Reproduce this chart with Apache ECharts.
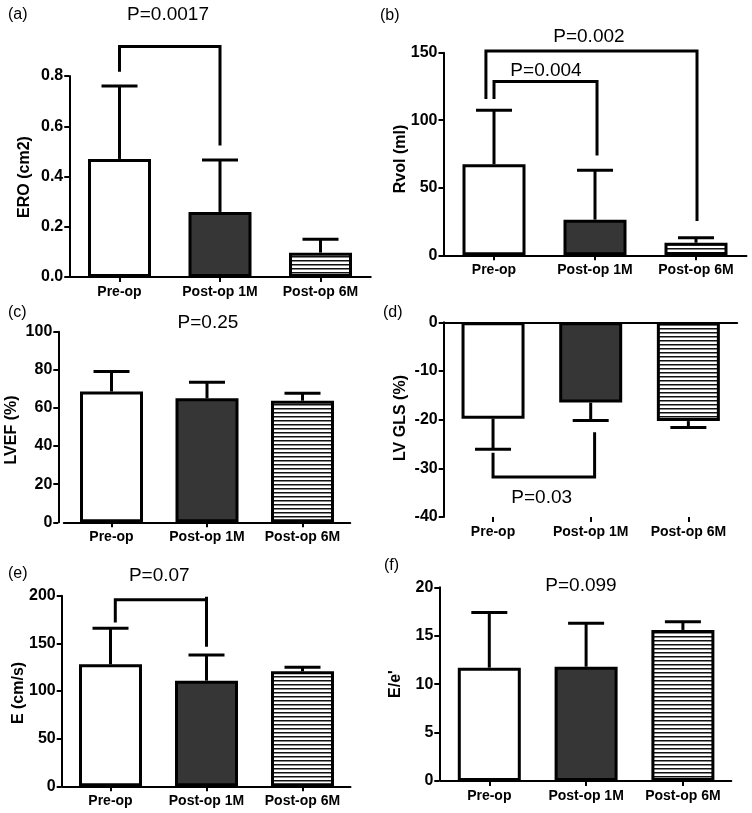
<!DOCTYPE html>
<html><head><meta charset="utf-8">
<script src="https://cdn.jsdelivr.net/npm/echarts@6/dist/echarts.min.js"></script>
<style>html,body{margin:0;padding:0;background:#fff}#c{width:752px;height:813px}</style>
</head><body><div id="c"></div>
<script>
// ---------- data ----------
const categories = ['Pre-op', 'Post-op 1M', 'Post-op 6M'];

const eroMean  = [0.47, 0.259, 0.097];
const eroSD    = [0.29, 0.207, 0.053];
const rvolMean = [67.4, 26.4, 9.3];
const rvolSD   = [40, 36.6, 3.7];
const lvefMean = [68.6, 65.1, 63.8];
const lvefSD   = [10.5, 8.4, 3.9];
const glsMean  = [-19.8, -16.5, -20.3];
const glsSD    = [6.3, 3.7, 1.3];
const eMean    = [128, 110.8, 120.7];
const eSD      = [37.8, 27, 4.2];
const eeMean   = [11.7, 11.8, 15.6];
const eeSD     = [5.7, 4.5, 0.85];

// significance brackets: [category position, value]
const eroBracket      = [[0, 0.817], [0, 0.917], [1, 0.917], [1, 0.523]];
const rvolBracketOut  = [[-0.08, 115.8], [-0.08, 151.3], [2.01, 151.3], [2.01, 25.4]];
const rvolBracketIn   = [[0, 115.8], [0, 128.6], [1.02, 128.6], [1.02, 73.8]];
const glsBracket      = [[0, -26.8], [0, -31.8], [1.04, -31.8], [1.04, -22.6]];
const eBracket        = [[0.05, 172], [0.05, 195.8], [1, 195.8], [1, 199], [1, 146.5]];

// p-value labels
const eroP  = [{ text: 'P=0.0017', at: [0.483, 1.043] }];
const rvolP = [{ text: 'P=0.002', at: [0.94, 161.9] }, { text: 'P=0.004', at: [0.515, 136.5] }];
const lvefP = [{ text: 'P=0.25', at: [1.01, 104.5] }];
const glsP  = [{ text: 'P=0.03', at: [0.498, -36.0] }];
const eP    = [{ text: 'P=0.07', at: [0.508, 220.7] }];
const eeP   = [{ text: 'P=0.099', at: [0.947, 20.2] }];

const panelLetters = ['(a)', '(b)', '(c)', '(d)', '(e)', '(f)'];
const yTitles = ['ERO (cm2)', 'Rvol (ml)', 'LVEF (%)', 'LV GLS (%)', 'E (cm/s)', "E/e'"];

// ---------- layout ----------
const FONT = "'Liberation Sans', Arial, Helvetica, sans-serif";
const panels = [
  { mean: eroMean,  sd: eroSD,  min: 0,   max: 0.8, interval: 0.2, dec: 1, grid: { left: 69.25, top: 76,    width: 301.5, height: 201 },   axisX: 69.25, titlePos: [25, 177], letterPos: [8, 15],   brackets: [eroBracket], p: eroP },
  { mean: rvolMean, sd: rvolSD, min: 0,   max: 150, interval: 50,  dec: 0, grid: { left: 443.5, top: 52.7,  width: 303,   height: 202.6 }, axisX: 443.5, titlePos: [401, 159], letterPos: [380, 16], brackets: [rvolBracketOut, rvolBracketIn], p: rvolP },
  { mean: lvefMean, sd: lvefSD, min: 0,   max: 100, interval: 20,  dec: 0, grid: { left: 63.75, top: 331.7, width: 286.5, height: 190.6 }, axisX: 58.3,  titlePos: [12, 430], letterPos: [8, 313],  brackets: [], p: lvefP },
  { mean: glsMean,  sd: glsSD,  min: -40, max: 0,   interval: 10,  dec: 0, grid: { left: 444.2, top: 322.3, width: 293,   height: 194.7 }, axisX: 443.7, titlePos: [401, 418], letterPos: [383, 313], brackets: [glsBracket], p: glsP, neg: true },
  { mean: eMean,    sd: eSD,    min: 0,   max: 200, interval: 50,  dec: 0, grid: { left: 62.5,  top: 595.7, width: 288,   height: 190.6 }, axisX: 61.7,  titlePos: [19, 693], letterPos: [8, 574],  brackets: [eBracket], p: eP },
  { mean: eeMean,   sd: eeSD,   min: 0,   max: 20,  interval: 5,   dec: 0, grid: { left: 440.9, top: 587.3, width: 290.4, height: 193.7 }, axisX: 439.3, titlePos: [396, 684], letterPos: [384, 566], brackets: [], p: eeP }
];

// stripe pattern for Post-op 6M
const pc = document.createElement('canvas');
pc.width = 8; pc.height = 4;
const g = pc.getContext('2d');
g.fillStyle = '#fff'; g.fillRect(0, 0, 8, 4);
g.fillStyle = '#111'; g.fillRect(0, 0, 8, 1.5);
const stripes = { image: pc, repeat: 'repeat' };
const fills = ['#ffffff', '#363636', stripes];

function renderErr(params, api) {
  const x = api.value(0), m = api.value(1), e = api.value(2);
  const p0 = api.coord([x, m]), p1 = api.coord([x, e]);
  const style = { stroke: '#000', lineWidth: 3 };
  return {
    type: 'group', children: [
      { type: 'line', shape: { x1: p0[0], y1: p0[1], x2: p1[0], y2: p1[1] }, style: style },
      { type: 'line', shape: { x1: p1[0] - 18, y1: p1[1], x2: p1[0] + 18, y2: p1[1] }, style: style }
    ]
  };
}

const option = { animation: false, backgroundColor: '#fff', grid: [], xAxis: [], yAxis: [], series: [], graphic: [] };

panels.forEach((P, i) => {
  option.grid.push(Object.assign({ containLabel: false }, P.grid));
  const neg = !!P.neg;
  option.xAxis.push({
    type: 'category', gridIndex: i, data: categories, position: 'bottom',
    axisLine: { show: !neg, onZero: false, lineStyle: { color: '#000', width: 2 } },
    axisTick: { show: true, alignWithLabel: true, length: 5, lineStyle: { color: '#000', width: 2 } },
    axisLabel: { interval: 0, margin: 8, color: '#000', fontWeight: 'bold', fontSize: 14, fontFamily: FONT },
    splitLine: { show: false }
  });
  option.xAxis.push({
    type: 'value', gridIndex: i, min: -0.5, max: 2.5, show: neg, position: 'top',
    axisLine: { show: true, onZero: false, lineStyle: { color: '#000', width: 2 } },
    axisTick: { show: false }, axisLabel: { show: false }, splitLine: { show: false }
  });
  option.yAxis.push({
    type: 'value', gridIndex: i, min: P.min, max: P.max, interval: P.interval,
    offset: P.grid.left - P.axisX,
    axisLine: { show: true, onZero: false, lineStyle: { color: '#000', width: 2 } },
    axisTick: { show: true, length: 5, lineStyle: { color: '#000', width: 2 } },
    axisLabel: { margin: 6, color: '#000', fontWeight: 'bold', fontSize: 16, fontFamily: FONT,
      formatter: v => Number(v).toFixed(P.dec) },
    splitLine: { show: false }
  });
  const cx = 2 * i, vx = 2 * i + 1;
  option.series.push({
    type: 'bar', xAxisIndex: cx, yAxisIndex: i, barWidth: 63,
    data: P.mean.map((v, k) => ({ value: v, itemStyle: { color: fills[k], borderColor: '#000', borderWidth: 3 } })),
    z: 2
  });
  option.series.push({
    type: 'custom', xAxisIndex: cx, yAxisIndex: i, renderItem: renderErr, z: 3,
    encode: { x: 0, y: [1, 2] },
    data: P.mean.map((m, k) => [k, m, m + (neg ? -1 : 1) * P.sd[k]])
  });
  P.brackets.forEach(b => {
    option.series.push({
      type: 'line', xAxisIndex: vx, yAxisIndex: i, data: b, symbol: 'none', clip: false, z: 4,
      lineStyle: { color: '#000', width: 3, cap: 'butt', join: 'miter' }
    });
  });
  option.graphic.push({
    type: 'text', x: P.letterPos[0], y: P.letterPos[1],
    style: { text: panelLetters[i], font: '16px ' + FONT, fill: '#000', align: 'left', verticalAlign: 'middle' }
  });
  option.graphic.push({
    type: 'text', x: P.titlePos[0], y: P.titlePos[1], rotation: Math.PI / 2,
    style: { text: yTitles[i], font: 'bold 16px ' + FONT, fill: '#000', align: 'center', verticalAlign: 'middle' }
  });
});

const chart = echarts.init(document.getElementById('c'), null, { renderer: 'canvas' });
chart.setOption(option);

// p-value labels placed through the panels' own scales
const pGraphics = [];
panels.forEach((P, i) => {
  P.p.forEach(o => {
    const px = chart.convertToPixel({ xAxisIndex: 2 * i + 1, yAxisIndex: i }, o.at);
    pGraphics.push({
      type: 'text', x: px[0], y: px[1],
      style: { text: o.text, font: '19px ' + FONT, fill: '#000', align: 'center', verticalAlign: 'middle' }
    });
  });
});
chart.setOption({ graphic: option.graphic.concat(pGraphics) });
</script>
</body></html>
